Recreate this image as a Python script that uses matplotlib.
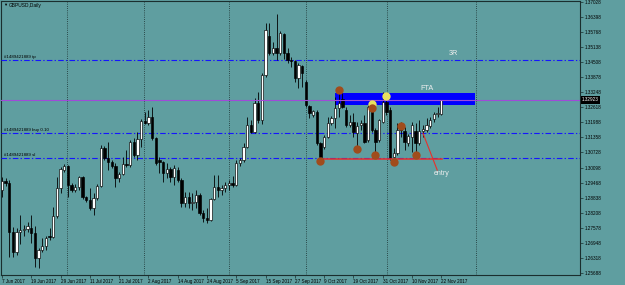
#!/usr/bin/env python3
"""
GBPUSD daily chart in the MT4 look, with trade levels and notes
"""

import matplotlib
matplotlib.use('Agg')
import matplotlib.pyplot as plt
from matplotlib.patches import Rectangle

# daily bars, 7 Jun 2017 .. 22 Nov 2017 (weekdays)
opens = [1.2916, 1.2953, 1.2945, 1.2740, 1.2657, 1.2740, 1.2749, 1.2753, 1.2757, 1.2736,
         1.2632, 1.2665, 1.2682, 1.2724, 1.2719, 1.2807, 1.2924, 1.2999, 1.3016, 1.2937,
         1.2916, 1.2928, 1.2970, 1.2887, 1.2874, 1.2841, 1.2882, 1.2933, 1.3091, 1.3050,
         1.3033, 1.3016, 1.2966, 1.2983, 1.3025, 1.3020, 1.3116, 1.3062, 1.3129, 1.3204,
         1.3196, 1.3221, 1.3133, 1.3041, 1.3033, 1.2987, 1.3004, 1.2970, 1.2999, 1.2958,
         1.2861, 1.2887, 1.2861, 1.2866, 1.2895, 1.2820, 1.2799, 1.2790, 1.2878, 1.2928,
         1.2916, 1.2924, 1.2937, 1.2945, 1.2937, 1.3029, 1.3041, 1.3096, 1.3188, 1.3158,
         1.3279, 1.3208, 1.3397, 1.3560, 1.3488, 1.3509, 1.3488, 1.3568, 1.3488, 1.3459,
         1.3455, 1.3384, 1.3434, 1.3367, 1.3267, 1.3229, 1.3242, 1.3112, 1.3096, 1.3137,
         1.3196, 1.3217, 1.3259, 1.3296, 1.3250, 1.3188, 1.3200, 1.3154, 1.3188, 1.3196,
         1.3125, 1.3263, 1.3167, 1.3125, 1.3200, 1.3284, 1.3250, 1.3054, 1.3070, 1.3183,
         1.3162, 1.3112, 1.3137, 1.3162, 1.3112, 1.3162, 1.3167, 1.3183, 1.3213, 1.3233,
         1.3233]
highs = [1.2970, 1.2966, 1.2958, 1.2761, 1.2757, 1.2811, 1.2770, 1.2782, 1.2811, 1.2765,
         1.2673, 1.2715, 1.2724, 1.2757, 1.2845, 1.2970, 1.3012, 1.3025, 1.3020, 1.2945,
         1.2941, 1.2974, 1.2974, 1.2891, 1.2924, 1.2903, 1.2941, 1.3104, 1.3100, 1.3116,
         1.3041, 1.3029, 1.2991, 1.3054, 1.3083, 1.3125, 1.3133, 1.3158, 1.3213, 1.3242,
         1.3250, 1.3263, 1.3137, 1.3054, 1.3037, 1.3029, 1.3012, 1.3020, 1.3012, 1.2966,
         1.2907, 1.2907, 1.2903, 1.2916, 1.2903, 1.2832, 1.2841, 1.2882, 1.2979, 1.2979,
         1.2937, 1.2949, 1.2958, 1.2974, 1.3041, 1.3050, 1.3112, 1.3221, 1.3208, 1.3300,
         1.3325, 1.3405, 1.3614, 1.3614, 1.3534, 1.3651, 1.3580, 1.3572, 1.3509, 1.3472,
         1.3459, 1.3447, 1.3438, 1.3376, 1.3271, 1.3250, 1.3250, 1.3116, 1.3146, 1.3221,
         1.3225, 1.3305, 1.3334, 1.3321, 1.3263, 1.3229, 1.3238, 1.3200, 1.3208, 1.3229,
         1.3271, 1.3279, 1.3175, 1.3213, 1.3325, 1.3321, 1.3263, 1.3091, 1.3196, 1.3200,
         1.3179, 1.3150, 1.3200, 1.3196, 1.3208, 1.3188, 1.3217, 1.3221, 1.3242, 1.3263,
         1.3292]
lows = [1.2887, 1.2933, 1.2636, 1.2636, 1.2644, 1.2690, 1.2724, 1.2740, 1.2694, 1.2594,
        1.2590, 1.2657, 1.2665, 1.2707, 1.2715, 1.2799, 1.2903, 1.2991, 1.2887, 1.2907,
        1.2907, 1.2916, 1.2878, 1.2866, 1.2832, 1.2811, 1.2874, 1.2928, 1.3041, 1.2999,
        1.3008, 1.2928, 1.2949, 1.2979, 1.3012, 1.3012, 1.3054, 1.3041, 1.3096, 1.3192,
        1.3188, 1.3125, 1.3020, 1.2987, 1.2949, 1.2966, 1.2949, 1.2937, 1.2949, 1.2845,
        1.2845, 1.2841, 1.2832, 1.2841, 1.2811, 1.2782, 1.2778, 1.2786, 1.2874, 1.2887,
        1.2895, 1.2907, 1.2916, 1.2928, 1.2933, 1.3016, 1.3033, 1.3091, 1.3154, 1.3154,
        1.3196, 1.3192, 1.3388, 1.3480, 1.3480, 1.3459, 1.3480, 1.3463, 1.3447, 1.3430,
        1.3367, 1.3342, 1.3346, 1.3263, 1.3217, 1.3221, 1.3104, 1.3037, 1.3087, 1.3133,
        1.3188, 1.3175, 1.3221, 1.3259, 1.3179, 1.3179, 1.3137, 1.3096, 1.3167, 1.3112,
        1.3116, 1.3158, 1.3070, 1.3116, 1.3196, 1.3229, 1.3041, 1.3033, 1.3062, 1.3137,
        1.3083, 1.3100, 1.3075, 1.3075, 1.3104, 1.3137, 1.3158, 1.3175, 1.3200, 1.3221,
        1.3229]
closes = [1.2953, 1.2945, 1.2740, 1.2657, 1.2740, 1.2749, 1.2753, 1.2765, 1.2736, 1.2632,
          1.2665, 1.2682, 1.2715, 1.2719, 1.2807, 1.2924, 1.3004, 1.3016, 1.2937, 1.2916,
          1.2928, 1.2970, 1.2887, 1.2874, 1.2841, 1.2882, 1.2933, 1.3091, 1.3050, 1.3033,
          1.3016, 1.2966, 1.2983, 1.3025, 1.3020, 1.3116, 1.3062, 1.3129, 1.3204, 1.3196,
          1.3221, 1.3133, 1.3029, 1.3033, 1.2987, 1.3004, 1.2970, 1.3008, 1.2958, 1.2861,
          1.2887, 1.2861, 1.2866, 1.2895, 1.2820, 1.2799, 1.2790, 1.2878, 1.2928, 1.2916,
          1.2924, 1.2937, 1.2945, 1.2937, 1.3029, 1.3041, 1.3096, 1.3188, 1.3158, 1.3279,
          1.3208, 1.3397, 1.3585, 1.3488, 1.3509, 1.3488, 1.3572, 1.3488, 1.3459, 1.3455,
          1.3384, 1.3438, 1.3405, 1.3271, 1.3238, 1.3246, 1.3112, 1.3054, 1.3137, 1.3196,
          1.3217, 1.3259, 1.3279, 1.3263, 1.3188, 1.3200, 1.3158, 1.3183, 1.3196, 1.3116,
          1.3263, 1.3167, 1.3116, 1.3208, 1.3284, 1.3242, 1.3050, 1.3070, 1.3167, 1.3167,
          1.3116, 1.3142, 1.3188, 1.3112, 1.3162, 1.3171, 1.3188, 1.3208, 1.3233, 1.3238,
          1.3292]

date_labels = ['7 Jun 2017', '19 Jun 2017', '29 Jun 2017', '11 Jul 2017', '21 Jul 2017',
               '2 Aug 2017', '14 Aug 2017', '24 Aug 2017', '5 Sep 2017', '15 Sep 2017',
               '27 Sep 2017', '9 Oct 2017', '19 Oct 2017', '31 Oct 2017', '10 Nov 2017',
               '22 Nov 2017']
date_bars = [0, 8, 16, 24, 32, 40, 48, 56, 64, 72, 80, 88, 96, 104, 112, 120]

price_ticks = [1.25688, 1.26318, 1.26948, 1.27578, 1.28208, 1.28838, 1.29468, 1.30098,
               1.30728, 1.31358, 1.31988, 1.32618, 1.33248, 1.33878, 1.34508, 1.35138,
               1.35768, 1.36398, 1.37028]

# month separators (bar index)
month_bars = [17.8, 38.9, 62.1, 83.1, 105.3, 129.4]

bid = 1.32923
order_levels = [1.3458, 1.3153, 1.3048]
order_names = ['#1489421889 tp', '#1489421889 buy 0.10', '#1489421889 sl']

# swing points marked on the chart
swing_bars = [92, 87, 97, 102, 107, 109, 113, 101]
swing_prices = [1.3334, 1.3038, 1.3088, 1.3062, 1.3034, 1.3183, 1.3062, 1.3260]
touch_bars = [101, 105]
touch_prices = [1.3275, 1.3309]

fta_bars = (91, 129.2)
fta_prices = (1.3271, 1.3320)
support_bars = (86.9, 120.1)
support_price = 1.3044
entry_line_bars = [115.0, 118.9]
entry_line_prices = [1.3153, 1.2999]

BG = '#5F9EA0'
FG = '#1a2e2e'

plt.rcParams['font.family'] = ['Liberation Sans', 'DejaVu Sans']


def draw_candles(ax):
    """
    Wicks then bodies, white for up days and black for down days
    """
    n = len(opens)
    xs = list(range(n))
    ax.vlines(xs, lows, highs, color='black', linewidth=0.6, zorder=4)
    for i in xs:
        o, c = opens[i], closes[i]
        bottom = min(o, c)
        height = max(abs(c - o), 0.00012)
        face = 'white' if c >= o else 'black'
        ax.add_patch(Rectangle((i - 0.32, bottom), 0.64, height, facecolor=face,
                               edgecolor='black', linewidth=0.45, zorder=5))


def draw_levels(ax):
    """
    Order lines, bid line and the drawn objects
    """
    trans = ax.get_yaxis_transform()
    for level, name in zip(order_levels, order_names):
        ax.axhline(level, color='#1414ff', linewidth=0.8,
                   dashes=(5, 2, 1.2, 2), zorder=3)
        ax.text(0.006, level + 0.0004, name, transform=trans, fontsize=3.2,
                color='black', ha='left', va='bottom', zorder=7)

    ax.add_patch(Rectangle((fta_bars[0], fta_prices[0]), fta_bars[1] - fta_bars[0],
                           fta_prices[1] - fta_prices[0], facecolor='#0000ff',
                           edgecolor='none', zorder=2))
    ax.axhline(bid, color='#a04ad8', linewidth=0.8, zorder=6)

    ax.plot(support_bars, [support_price, support_price], color='#e8302a',
            linewidth=1.1, zorder=6)
    ax.plot(entry_line_bars, entry_line_prices, color='#e8302a', linewidth=0.8,
            zorder=6)

    ax.plot(touch_bars, touch_prices, 'o', color='#e8e060', markersize=6,
            markeredgewidth=0, zorder=7)
    ax.plot(swing_bars, swing_prices, 'o', color='#a04c1c', markersize=6,
            markeredgewidth=0, zorder=8)

    ax.text(116.2, 1.3338, 'FTA', color='#eeeeee', fontsize=5.2, ha='center',
            va='center', zorder=9)
    ax.text(123.2, 1.3488, '3R', color='#eeeeee', fontsize=5.2, ha='center',
            va='center', zorder=9)
    ax.text(120.2, 1.2983, 'entry', color='#eeeeee', fontsize=5, ha='center',
            va='center', zorder=9)


def main():
    fig = plt.figure(figsize=(6.25, 2.85), dpi=100)
    fig.patch.set_facecolor(BG)
    ax = fig.add_axes([1 / 625, 10 / 285, 579 / 625, 274 / 285])
    ax.set_facecolor(BG)

    ax.set_xlim(-0.27, 157.9)
    ax.set_ylim(1.25605, 1.37058)

    for b in month_bars:
        ax.axvline(b, color=FG, linewidth=0.6, linestyle=(0, (1, 1.6)), zorder=1)

    draw_candles(ax)
    draw_levels(ax)

    for side in ax.spines.values():
        side.set_color(FG)
        side.set_linewidth(0.8)

    ax.yaxis.tick_right()
    ax.set_yticks(price_ticks)
    ax.set_yticklabels(['%.5f' % p for p in price_ticks])
    ax.tick_params(axis='y', length=2, width=0.5, colors=FG, labelsize=3.3,
                   pad=1.5, labelcolor='black')
    ax.set_xticks(date_bars)
    ax.set_xticklabels(date_labels, ha='left')
    ax.tick_params(axis='x', length=2, width=0.5, colors=FG, labelsize=3.3,
                   pad=1, labelcolor='black')

    ax.text(1.0 + 2 / 579, bid, '%.5f' % bid, transform=ax.get_yaxis_transform(),
            fontsize=3.3, color='white', ha='left', va='center', zorder=10,
            bbox=dict(boxstyle='square,pad=0.25', facecolor='black',
                      edgecolor='none'), clip_on=False)

    fig.text(3 / 625, 1 - 5 / 285, '\u25bc', fontsize=3, color='black', va='center')
    fig.text(9 / 625, 1 - 5 / 285, 'GBPUSD,Daily', fontsize=3.5, color='black',
             va='center')

    fig.savefig('out.png', dpi=100, facecolor=BG)
    plt.close()


if __name__ == '__main__':
    main()
